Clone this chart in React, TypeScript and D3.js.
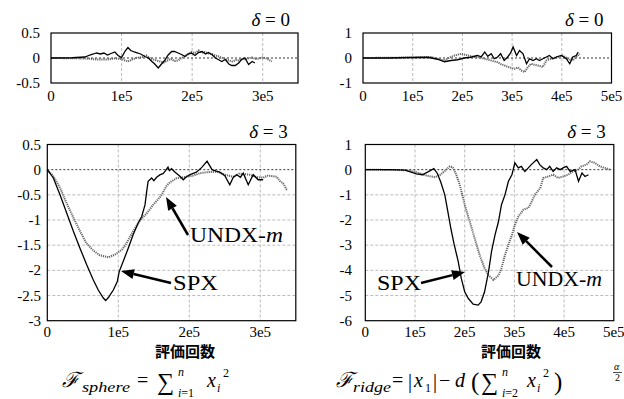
import { useMemo } from "react";
import { scaleLinear, line } from "d3";

type Pt = [number, number];

// x values are in units of 1e5 evaluations
const xTicksSphere = [0, 1, 2, 3];
const xTicksRidge = [0, 1, 2, 3, 4, 5];
const xTickLabelsSphere = ["0", "1e5", "2e5", "3e5"];
const xTickLabelsRidge = ["0", "1e5", "2e5", "3e5", "4e5", "5e5"];

const yTicksSphereTop = [-0.5, 0, 0.5];
const yTickLabelsSphereTop = ["-0.5", "0", "0.5"];
const yTicksRidgeTop = [-1, 0, 1];
const yTickLabelsRidgeTop = ["-1", "0", "1"];
const yTicksSphereBottom = [-3, -2.5, -2, -1.5, -1, -0.5, 0, 0.5];
const yTickLabelsSphereBottom = ["-3", "-2.5", "-2", "-1.5", "-1", "-0.5", "0", "0.5"];
const yTicksRidgeBottom = [-6, -5, -4, -3, -2, -1, 0, 1];
const yTickLabelsRidgeBottom = ["-6", "-5", "-4", "-3", "-2", "-1", "0", "1"];

const sphereD0Spx: Pt[] = [
  [0, 0], [0.3, 0.005], [0.48, 0.02], [0.55, 0.06], [0.6, 0.08], [0.645, 0.1], [0.7, 0.08],
  [0.75, 0.1], [0.8, 0.06], [0.85, 0.09], [0.905, 0.12], [0.95, 0.05], [1.0, 0.01],
  [1.05, 0.14], [1.09, 0.21], [1.13, 0.15], [1.18, 0.12], [1.23, 0.1], [1.27, 0.08],
  [1.33, 0.03], [1.38, 0], [1.43, -0.07], [1.47, -0.12], [1.52, -0.2], [1.56, -0.13],
  [1.61, -0.05], [1.66, 0.06], [1.71, 0.13], [1.75, 0.13], [1.8, 0.1], [1.85, 0.07],
  [1.9, 0.03], [1.94, 0.08], [1.99, 0.1], [2.04, 0.05], [2.09, 0.11], [2.14, 0.13],
  [2.19, 0.08], [2.23, 0.11], [2.28, 0.07], [2.33, 0], [2.37, -0.03], [2.42, -0.07],
  [2.47, -0.03], [2.52, -0.12], [2.56, -0.15], [2.61, -0.15], [2.66, -0.1], [2.7, -0.03],
  [2.75, 0], [2.8, -0.13], [2.85, -0.07], [2.89, -0.1],
];
const sphereD0Undx: Pt[] = [
  [0, 0], [0.3, -0.005], [0.5, -0.01], [0.65, -0.03], [0.8, -0.03], [0.9, -0.01], [1.0, -0.02],
  [1.05, -0.05], [1.09, -0.07], [1.15, -0.03], [1.2, 0.0], [1.3, 0.02], [1.35, 0.05],
  [1.4, 0], [1.45, -0.03], [1.5, -0.05], [1.55, -0.07], [1.6, -0.09], [1.65, -0.05],
  [1.7, -0.02], [1.75, -0.06], [1.8, -0.05], [1.85, 0.0], [1.9, 0.04], [1.95, 0.08],
  [1.99, 0.12], [2.04, 0.1], [2.09, 0.15], [2.13, 0.11], [2.18, 0.12], [2.23, 0.09],
  [2.28, 0.08], [2.33, 0.05], [2.38, 0.03], [2.43, 0.0], [2.47, -0.02], [2.52, -0.05],
  [2.57, -0.07], [2.62, -0.04], [2.66, -0.05], [2.71, -0.02], [2.76, -0.03], [2.8, 0.0],
  [2.85, 0.01], [2.9, -0.02], [2.95, -0.01], [3.0, 0.01], [3.04, 0], [3.08, -0.03], [3.13, -0.07],
];

const ridgeD0Spx: Pt[] = [
  [0, 0], [0.5, 0], [0.97, 0.02], [1.3, 0.03], [1.5, -0.05], [1.64, -0.15], [1.77, -0.1],
  [1.9, -0.07], [2.04, 0], [2.17, 0.03], [2.3, 0.1], [2.38, 0.05], [2.45, 0.24], [2.51, 0.07],
  [2.58, 0.17], [2.64, -0.03], [2.71, 0.04], [2.77, 0.17], [2.84, -0.1], [2.91, 0.04],
  [2.97, 0.2], [3.02, 0.44], [3.09, 0.1], [3.15, 0.3], [3.22, 0.17], [3.29, -0.23],
  [3.35, -0.03], [3.42, -0.1], [3.49, -0.03], [3.55, -0.1], [3.62, -0.03], [3.69, 0.04],
  [3.75, 0.1], [3.82, -0.03], [3.89, 0.04], [3.99, 0.1], [4.09, -0.03], [4.16, -0.23],
  [4.22, 0.04], [4.29, 0.1], [4.33, 0.24],
];
const ridgeD0Undx: Pt[] = [
  [0, 0], [0.97, 0.02], [1.37, 0.04], [1.5, -0.03], [1.64, -0.1], [1.74, 0.02], [1.84, 0.1],
  [1.98, 0.17], [2.11, 0.1], [2.25, 0.04], [2.35, 0.02], [2.45, -0.03], [2.58, -0.1],
  [2.71, -0.17], [2.78, -0.25], [2.85, -0.3], [2.92, -0.36], [3.05, -0.43], [3.12, -0.38],
  [3.18, -0.5], [3.25, -0.56], [3.32, -0.36], [3.38, -0.23], [3.45, -0.27], [3.52, -0.3],
  [3.62, -0.36], [3.69, -0.1], [3.79, -0.03], [3.92, 0.04], [4.02, 0.1], [4.12, -0.03],
  [4.22, -0.1], [4.29, 0.04], [4.36, 0.17],
];

const sphereD3Spx: Pt[] = [
  [0, 0], [0.085, -0.165], [0.179, -0.5], [0.273, -0.86], [0.366, -1.22], [0.46, -1.56],
  [0.555, -1.89], [0.648, -2.19], [0.718, -2.39], [0.789, -2.55], [0.822, -2.6], [0.86, -2.54],
  [0.93, -2.39], [0.986, -2.22], [1.014, -2.02], [1.07, -1.82], [1.14, -1.56], [1.21, -1.29],
  [1.28, -1.06], [1.33, -0.93], [1.376, -0.7], [1.4, -0.43], [1.42, -0.23], [1.47, -0.165],
  [1.5, -0.22], [1.54, -0.15], [1.59, -0.1], [1.63, -0.08], [1.66, -0.03], [1.7, 0.05],
  [1.72, -0.02], [1.75, 0.02], [1.8, -0.05], [1.86, -0.12], [1.915, -0.2], [1.96, -0.14],
  [2.01, -0.1], [2.1, -0.05], [2.18, 0.05], [2.25, 0.17], [2.32, 0], [2.38, -0.03],
  [2.43, -0.05], [2.5, -0.12], [2.57, -0.3], [2.62, -0.15], [2.67, -0.1], [2.72, -0.15],
  [2.76, -0.07], [2.83, -0.3], [2.9, -0.1], [2.97, -0.2], [3.04, -0.2],
];
const sphereD3Undx: Pt[] = [
  [0, 0], [0.085, -0.13], [0.18, -0.36], [0.27, -0.66], [0.37, -0.96], [0.46, -1.22],
  [0.55, -1.46], [0.65, -1.61], [0.74, -1.7], [0.86, -1.74], [0.95, -1.69], [1.05, -1.59],
  [1.1, -1.5], [1.21, -1.22], [1.31, -1.0], [1.4, -0.87], [1.49, -0.7], [1.59, -0.54],
  [1.63, -0.45], [1.68, -0.32], [1.73, -0.25], [1.82, -0.17], [1.96, -0.14], [2.05, -0.12],
  [2.15, -0.07], [2.25, -0.05], [2.39, -0.04], [2.5, -0.1], [2.62, -0.14], [2.7, -0.08],
  [2.85, -0.1], [2.95, -0.15], [3.04, -0.16], [3.1, -0.12], [3.18, -0.13], [3.23, -0.14],
  [3.28, -0.23], [3.32, -0.27], [3.37, -0.39], [3.39, -0.4],
];

const ridgeD3Spx: Pt[] = [
  [0, 0], [0.5, 0], [0.8, -0.02], [1.03, -0.17], [1.15, -0.2], [1.25, -0.1], [1.38, 0.04],
  [1.45, -0.15], [1.52, -0.5], [1.6, -1.0], [1.66, -1.66], [1.72, -2.32], [1.79, -2.99],
  [1.87, -3.65], [1.93, -4.31], [2.0, -4.85], [2.07, -5.11], [2.17, -5.34], [2.27, -5.38],
  [2.33, -5.25], [2.4, -4.85], [2.48, -4.05], [2.54, -3.25], [2.61, -2.59], [2.68, -2.06],
  [2.74, -1.39], [2.81, -1.0], [2.88, -0.46], [2.95, -0.2], [3.01, 0.27], [3.08, 0.07],
  [3.14, 0.13], [3.21, -0.07], [3.28, 0.07], [3.34, 0.2], [3.45, 0.4], [3.51, 0.2],
  [3.58, 0.07], [3.65, 0.0], [3.71, 0.13], [3.78, -0.07], [3.85, 0.07], [3.92, 0],
  [3.98, 0.07], [4.05, 0.13], [4.12, -0.07], [4.22, 0.0], [4.29, -0.46], [4.36, -0.13],
  [4.42, -0.27], [4.49, -0.2],
];
const ridgeD3Undx: Pt[] = [
  [0, 0], [0.8, -0.02], [1.0, -0.08], [1.2, -0.22], [1.4, -0.3], [1.5, -0.22], [1.6, -0.05],
  [1.7, 0.13], [1.76, 0.1], [1.83, -0.2], [1.9, -0.6], [2.0, -1.39], [2.1, -2.06],
  [2.2, -2.72], [2.3, -3.39], [2.4, -3.92], [2.48, -4.2], [2.58, -4.38], [2.68, -4.2],
  [2.74, -3.92], [2.81, -3.39], [2.88, -2.99], [2.95, -2.59], [3.01, -2.19], [3.08, -1.86],
  [3.18, -1.59], [3.28, -1.52], [3.35, -1.26], [3.41, -1.0], [3.52, -0.73], [3.58, -0.33],
  [3.68, -0.27], [3.78, -0.2], [3.88, -0.33], [3.98, -0.27], [4.08, -0.2], [4.18, -0.07],
  [4.28, 0.0], [4.35, 0.13], [4.45, 0.2], [4.52, 0.33], [4.62, 0.27], [4.72, 0.13],
  [4.82, 0.07], [4.92, 0.0],
];

const SERIF = "Liberation Serif, Times New Roman, DejaVu Serif, serif";
const CJK = "Noto Sans CJK JP, sans-serif";

interface PanelProps {
  x0: number; x1: number; y0: number; y1: number;
  xMax: number; yMin: number; yMax: number;
  xTicks: number[]; xLabels: string[];
  yTicks: number[]; yLabels: string[];
  labelRight: number;
  xLabelY: number;
  delta: string;
  solid: Pt[]; dotted: Pt[];
  children?: React.ReactNode;
}

function Panel(p: PanelProps) {
  const x = useMemo(() => scaleLinear().domain([0, p.xMax]).range([p.x0, p.x1]), [p.x0, p.x1, p.xMax]);
  const y = useMemo(() => scaleLinear().domain([p.yMin, p.yMax]).range([p.y1, p.y0]), [p.y0, p.y1, p.yMin, p.yMax]);
  const gen = line<Pt>().x((d) => x(d[0])).y((d) => y(d[1]));
  return (
    <g>
      {/* grid */}
      {p.xTicks.filter((t) => t > 0 && t < p.xMax).map((t) => (
        <line key={"gx" + t} x1={x(t)} x2={x(t)} y1={p.y0} y2={p.y1} stroke="#aaa" strokeWidth={0.8} strokeDasharray="3,2" />
      ))}
      {p.yTicks.filter((t) => t > p.yMin && t < p.yMax && t !== 0).map((t) => (
        <line key={"gy" + t} x1={p.x0} x2={p.x1} y1={y(t)} y2={y(t)} stroke="#aaa" strokeWidth={0.8} strokeDasharray="3,2" />
      ))}
      <line x1={p.x0} x2={p.x1} y1={y(0)} y2={y(0)} stroke="#000" strokeWidth={0.8} strokeDasharray="2,2" />
      {/* curves */}
      <path d={gen(p.dotted) ?? ""} fill="none" stroke="#666" strokeWidth={2} strokeDasharray="1.2,0.9" />
      <path d={gen(p.solid) ?? ""} fill="none" stroke="#000" strokeWidth={1.3} />
      {/* frame */}
      <rect x={p.x0} y={p.y0} width={p.x1 - p.x0} height={p.y1 - p.y0} fill="none" stroke="#000" strokeWidth={1.2} />
      {/* tick labels */}
      <g style={{ fontFamily: SERIF }} fontSize={15}>
        {p.xTicks.map((t, i) => (
          <text key={"tx" + t} x={x(t)} y={p.xLabelY} textAnchor="middle">{p.xLabels[i]}</text>
        ))}
        {p.yTicks.map((t, i) => (
          <text key={"ty" + t} x={p.labelRight} y={y(t) + 5} textAnchor="end">{p.yLabels[i]}</text>
        ))}
      </g>
      <text x={p.x1 - 8} y={p.y0 - 7} textAnchor="end" style={{ fontFamily: SERIF }} fontSize={19}>
        <tspan fontStyle="italic">δ</tspan> = {p.delta}
      </text>
      {p.children}
    </g>
  );
}

function Arrow({ x1, y1, x2, y2 }: { x1: number; y1: number; x2: number; y2: number }) {
  const a = Math.atan2(y2 - y1, x2 - x1);
  const L = 13, W = 5;
  const bx = x2 - L * Math.cos(a), by = y2 - L * Math.sin(a);
  const px = -Math.sin(a) * W, py = Math.cos(a) * W;
  return (
    <g>
      <line x1={x1} y1={y1} x2={bx} y2={by} stroke="#000" strokeWidth={2.5} />
      <polygon points={`${x2},${y2} ${bx + px},${by + py} ${bx - px},${by - py}`} fill="#000" />
    </g>
  );
}

function Label({ x, y, text, m, w }: { x: number; y: number; text: string; m?: boolean; w: number }) {
  return (
    <text x={x} y={y} style={{ fontFamily: SERIF }} fontSize={22} textLength={w} lengthAdjust="spacingAndGlyphs">
      {text}
      {m && <tspan fontStyle="italic">m</tspan>}
    </text>
  );
}

export default function App() {
  return (
    <svg width={624} height={399} style={{ position: "fixed", left: 0, top: 0, background: "#fff" }}>
      <Panel x0={51} x1={298} y0={33} y1={83} xMax={3.5} yMin={-0.5} yMax={0.5}
        xTicks={xTicksSphere} xLabels={xTickLabelsSphere} yTicks={yTicksSphereTop} yLabels={yTickLabelsSphereTop}
        labelRight={40} xLabelY={101} delta="0" solid={sphereD0Spx} dotted={sphereD0Undx} />
      <Panel x0={363} x1={611.5} y0={33} y1={83} xMax={5} yMin={-1} yMax={1}
        xTicks={xTicksRidge} xLabels={xTickLabelsRidge} yTicks={yTicksRidgeTop} yLabels={yTickLabelsRidgeTop}
        labelRight={352} xLabelY={101} delta="0" solid={ridgeD0Spx} dotted={ridgeD0Undx} />
      <Panel x0={47.3} x1={295.8} y0={144.5} y1={320.7} xMax={3.5} yMin={-3} yMax={0.5}
        xTicks={xTicksSphere} xLabels={xTickLabelsSphere} yTicks={yTicksSphereBottom} yLabels={yTickLabelsSphereBottom}
        labelRight={41} xLabelY={337} delta="3" solid={sphereD3Spx} dotted={sphereD3Undx}>
        <Arrow x1={188} y1={235} x2={166} y2={197} />
        <Arrow x1={171} y1={283} x2={121} y2={271} />
        <Label x={190} y={242} text="UNDX-" m w={93} />
        <Label x={173} y={290} text="SPX" w={45} />
      </Panel>
      <Panel x0={365.3} x1={613.8} y0={144.5} y1={320.7} xMax={5} yMin={-6} yMax={1}
        xTicks={xTicksRidge} xLabels={xTickLabelsRidge} yTicks={yTicksRidgeBottom} yLabels={yTickLabelsRidgeBottom}
        labelRight={352} xLabelY={337} delta="3" solid={ridgeD3Spx} dotted={ridgeD3Undx}>
        <Arrow x1={421} y1={283} x2={465} y2={272} />
        <Arrow x1={552} y1={267} x2={517} y2={232} />
        <Label x={377} y={290} text="SPX" w={44} />
        <Label x={516} y={286} text="UNDX-" m w={86} />
      </Panel>

      <text x={185} y={357} textAnchor="middle" style={{ fontFamily: CJK }} fontSize={15} fontWeight={700}>評価回数</text>
      <text x={511} y={357} textAnchor="middle" style={{ fontFamily: CJK }} fontSize={15} fontWeight={700}>評価回数</text>

      {/* formulas */}
      <g style={{ fontFamily: SERIF }} fill="#000">
        <text x={62} y={387} fontSize={21} fontStyle="italic">ℱ</text>
        <text x={82} y={392} fontSize={14} fontStyle="italic" textLength={48} lengthAdjust="spacingAndGlyphs">sphere</text>
        <text x={137} y={387} fontSize={20}>=</text>
        <text x={157} y={390} fontSize={24}>∑</text>
        <text x={178} y={376} fontSize={12} fontStyle="italic">n</text>
        <text x={178} y={397} fontSize={12}><tspan fontStyle="italic">i</tspan>=1</text>
        <text x={207} y={387} fontSize={20} fontStyle="italic">x</text>
        <text x={217} y={392} fontSize={12} fontStyle="italic">i</text>
        <text x={223} y={377} fontSize={12}>2</text>

        <text x={336} y={387} fontSize={21} fontStyle="italic">ℱ</text>
        <text x={353} y={392} fontSize={14} fontStyle="italic" textLength={38} lengthAdjust="spacingAndGlyphs">ridge</text>
        <text x={392} y={387} fontSize={20}>=</text>
        <text x={408} y={388} fontSize={20}>|</text>
        <text x={414} y={387} fontSize={20} fontStyle="italic">x</text>
        <text x={425} y={392} fontSize={12}>1</text>
        <text x={433} y={388} fontSize={20}>|</text>
        <text x={439} y={387} fontSize={20}>−</text>
        <text x={455} y={387} fontSize={20} fontStyle="italic">d</text>
        <text x={471} y={390} fontSize={25}>(</text>
        <text x={481} y={390} fontSize={24}>∑</text>
        <text x={502} y={376} fontSize={12} fontStyle="italic">n</text>
        <text x={502} y={397} fontSize={12}><tspan fontStyle="italic">i</tspan>=2</text>
        <text x={527} y={387} fontSize={20} fontStyle="italic">x</text>
        <text x={537} y={392} fontSize={12} fontStyle="italic">i</text>
        <text x={543} y={377} fontSize={12}>2</text>
        <text x={554} y={390} fontSize={25}>)</text>
        <text x={614} y={370} fontSize={10} fontStyle="italic">α</text>
        <line x1={613} x2={622} y1={372.5} y2={372.5} stroke="#000" strokeWidth={0.7} />
        <text x={615} y={381} fontSize={10}>2</text>
      </g>
    </svg>
  );
}
